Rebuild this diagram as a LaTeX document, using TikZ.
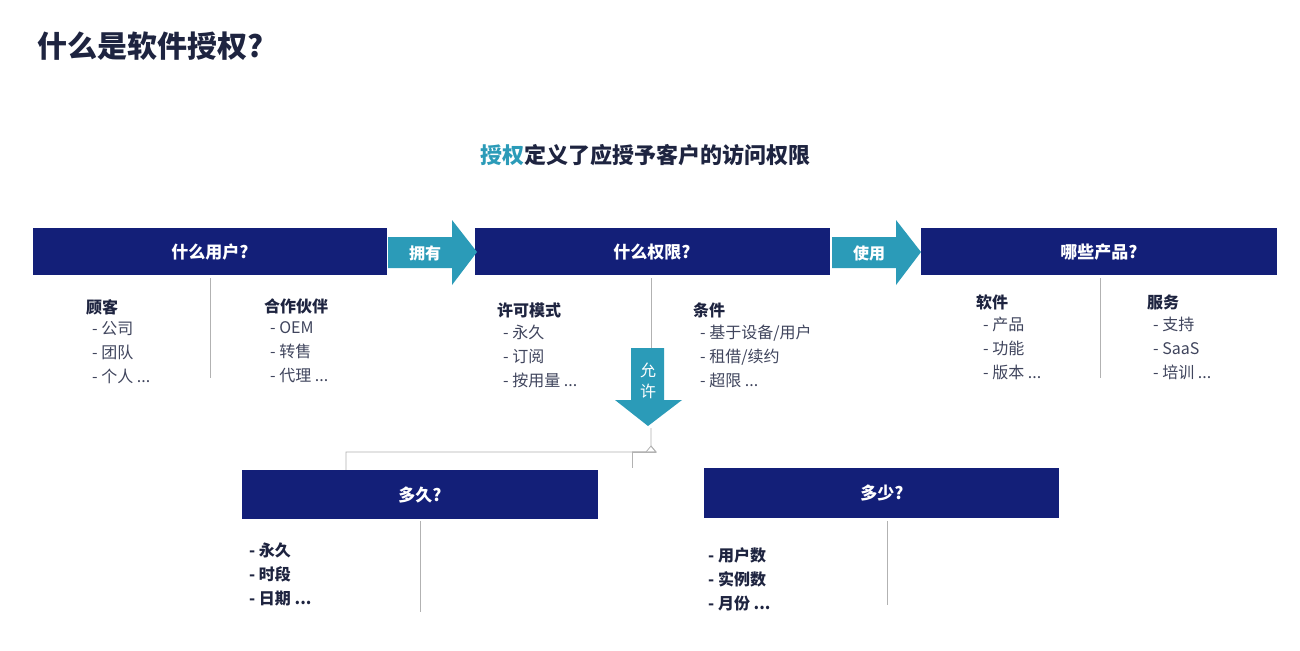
\documentclass[tikz,border=0pt]{standalone}
\usepackage{fontspec}
\setmainfont{Noto Sans CJK SC}
\begin{document}
\begin{tikzpicture}[x=1pt,y=-1pt,
  hdr/.style={fill=navy,draw=none},
  hdrtxt/.style={text=white,font=\bfseries\fontsize{17}{20}\selectfont},
  sep/.style={draw=gray!60,line width=0.8pt},
  harrow/.style={fill=teal1,draw=none},
  head/.style={anchor=north west,align=left,text=ink,font=\bfseries\fontsize{16}{22}\selectfont,inner sep=0pt},
  items/.style={anchor=north west,align=left,text=ink!85,font=\fontsize{16}{24}\selectfont,inner sep=0pt},
  bitems/.style={anchor=north west,align=left,text=ink,font=\bfseries\fontsize{16}{24}\selectfont,inner sep=0pt}]
\definecolor{navy}{HTML}{131F78}
\definecolor{teal1}{HTML}{2B9BB8}
\definecolor{ink}{HTML}{1E2440}
\useasboundingbox[fill=white] (0,0) rectangle (1300,650);
\node[anchor=west,text=ink,font=\bfseries\fontsize{30}{34}\selectfont] (title) at (34,46) {什么是软件授权?};
\node[font=\bfseries\fontsize{22}{26}\selectfont,text=ink] (sub) at (645,155) {\textcolor{teal1}{授权}定义了应授予客户的访问权限};
% header boxes
\path[hdr] (33,228) rectangle (387,275);
\node[hdrtxt] (b1) at (210,252) {什么用户?};
\path[hdr] (475,228) rectangle (830,275);
\node[hdrtxt] (b2) at (652,252) {什么权限?};
\path[hdr] (921,228) rectangle (1277,275);
\node[hdrtxt] (b3) at (1099,252) {哪些产品?};
% arrows
\path[harrow] (388,237) -- (452,237) -- (452,220) -- (477,252) -- (452,285) -- (452,268) -- (388,268) -- cycle;
\node[text=white,font=\bfseries\fontsize{16}{20}\selectfont] (a1) at (425,253) {拥有};
\path[harrow] (832,237) -- (896,237) -- (896,220) -- (921,252) -- (896,285) -- (896,268) -- (832,268) -- cycle;
\node[text=white,font=\bfseries\fontsize{16}{20}\selectfont] (a2) at (869,253) {使用};
% separators
\draw[sep] (210,278) -- (210,378);
\draw[sep] (651,278) -- (651,348);
\draw[sep] (1100,278) -- (1100,378);
% down arrow
\path[harrow] (631,348) -- (664,348) -- (664,400) -- (682,400) -- (648,426) -- (615,400) -- (631,400) -- cycle;
\node[text=white,align=center,font=\fontsize{16}{21}\selectfont] (a3) at (648,381) {允\\许};
% bracket
\draw[sep] (651,428) -- (651,446) -- (646,452) -- (346,452) -- (346,470);
\draw[sep] (651,446) -- (656,452) -- (632,452) (656,452) -- (632,452);
\draw[sep] (656,452) -- (632,452);
\draw[sep] (651,446) -- (656,452) -- (632,452);
\draw[sep] (656,452) -- (632,452) -- (632,468);
% lists
\node[head] (g1) at (86,299) {顾客};
\node[items] (g1i) at (92,321) {- 公司\\- 团队\\- 个人 ...};
\node[head] (g2) at (264,299) {合作伙伴};
\node[items] (g2i) at (270,321) {- OEM\\- 转售\\- 代理 ...};
\node[head] (g3) at (497,303) {许可模式};
\node[items] (g3i) at (503,325) {- 永久\\- 订阅\\- 按用量 ...};
\node[head] (g4) at (693,303) {条件};
\node[items] (g4i) at (700,325) {- 基于设备/用户\\- 租借/续约\\- 超限 ...};
\node[head] (g5) at (976,295) {软件};
\node[items] (g5i) at (983,317) {- 产品\\- 功能\\- 版本 ...};
\node[head] (g6) at (1147,295) {服务};
\node[items] (g6i) at (1153,317) {- 支持\\- SaaS\\- 培训 ...};
% lower boxes
\path[hdr] (242,470) rectangle (598,519);
\node[hdrtxt] (b4) at (420,495) {多久?};
\path[hdr] (704,468) rectangle (1059,518);
\node[hdrtxt] (b5) at (882,493) {多少?};
\draw[sep] (420,521) -- (420,612);
\draw[sep] (887,521) -- (887,605);
\node[bitems] (l1) at (249,543) {- 永久\\- 时段\\- 日期 ...};
\node[bitems] (l2) at (708,548) {- 用户数\\- 实例数\\- 月份 ...};
\end{tikzpicture}
\end{document}
